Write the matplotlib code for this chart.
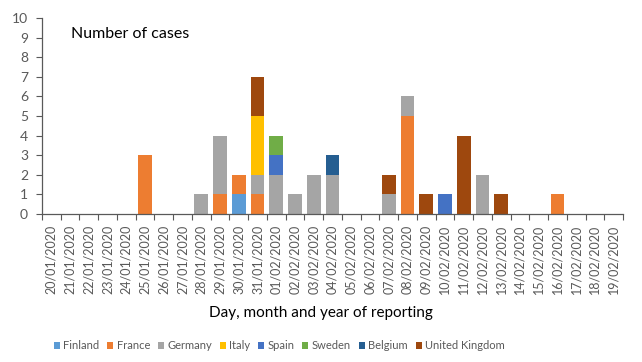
import matplotlib.pyplot as plt
import numpy as np

plt.rcParams["font.family"] = ["Lato", "DejaVu Sans"]

dates = [
    "20/01/2020", "21/01/2020", "22/01/2020", "23/01/2020", "24/01/2020",
    "25/01/2020", "26/01/2020", "27/01/2020", "28/01/2020", "29/01/2020",
    "30/01/2020", "31/01/2020", "01/02/2020", "02/02/2020", "03/02/2020",
    "04/02/2020", "05/02/2020", "06/02/2020", "07/02/2020", "08/02/2020",
    "09/02/2020", "10/02/2020", "11/02/2020", "12/02/2020", "13/02/2020",
    "14/02/2020", "15/02/2020", "16/02/2020", "17/02/2020", "18/02/2020",
    "19/02/2020",
]

finland = [0, 0, 0, 0, 0, 0, 0, 0, 0, 0, 1, 0, 0, 0, 0, 0, 0, 0, 0, 0, 0, 0, 0, 0, 0, 0, 0, 0, 0, 0, 0]
france = [0, 0, 0, 0, 0, 3, 0, 0, 0, 1, 1, 1, 0, 0, 0, 0, 0, 0, 0, 5, 0, 0, 0, 0, 0, 0, 0, 1, 0, 0, 0]
germany = [0, 0, 0, 0, 0, 0, 0, 0, 1, 3, 0, 1, 2, 1, 2, 2, 0, 0, 1, 1, 0, 0, 0, 2, 0, 0, 0, 0, 0, 0, 0]
italy = [0, 0, 0, 0, 0, 0, 0, 0, 0, 0, 0, 3, 0, 0, 0, 0, 0, 0, 0, 0, 0, 0, 0, 0, 0, 0, 0, 0, 0, 0, 0]
spain = [0, 0, 0, 0, 0, 0, 0, 0, 0, 0, 0, 0, 1, 0, 0, 0, 0, 0, 0, 0, 0, 1, 0, 0, 0, 0, 0, 0, 0, 0, 0]
sweden = [0, 0, 0, 0, 0, 0, 0, 0, 0, 0, 0, 0, 1, 0, 0, 0, 0, 0, 0, 0, 0, 0, 0, 0, 0, 0, 0, 0, 0, 0, 0]
belgium = [0, 0, 0, 0, 0, 0, 0, 0, 0, 0, 0, 0, 0, 0, 0, 1, 0, 0, 0, 0, 0, 0, 0, 0, 0, 0, 0, 0, 0, 0, 0]
united_kingdom = [0, 0, 0, 0, 0, 0, 0, 0, 0, 0, 0, 2, 0, 0, 0, 0, 0, 0, 1, 0, 1, 0, 4, 0, 1, 0, 0, 0, 0, 0, 0]

series = [
    ("Finland", finland, "#5B9BD5"),
    ("France", france, "#ED7D31"),
    ("Germany", germany, "#A5A5A5"),
    ("Italy", italy, "#FFC000"),
    ("Spain", spain, "#4472C4"),
    ("Sweden", sweden, "#70AD47"),
    ("Belgium", belgium, "#255E91"),
    ("United Kingdom", united_kingdom, "#9E480E"),
]

axis_color = "#595959"

fig = plt.figure(figsize=(6.42, 3.62), dpi=100)
ax = fig.add_axes([0.0654, 0.409, 0.905, 0.541])

x = np.arange(len(dates))
bottom = np.zeros(len(dates))
for name, values, color in series:
    values = np.array(values, dtype=float)
    ax.bar(x, values, width=0.73, bottom=bottom, color=color, label=name, linewidth=0)
    bottom += values

ax.set_xlim(-0.5, len(dates) - 0.5)
ax.set_ylim(0, 10)
ax.set_yticks(range(0, 11))
ax.tick_params(axis="y", labelsize=10, colors=axis_color, length=4, width=0.8, pad=6)

ax.set_xticks(x)
ax.set_xticklabels(dates, rotation=90, fontsize=9, color=axis_color)
ax.tick_params(axis="x", which="major", length=0, pad=8)
ax.set_xticks(np.arange(len(dates) + 1) - 0.5, minor=True)
ax.tick_params(axis="x", which="minor", length=4, width=0.8, color=axis_color)

for side in ["top", "right"]:
    ax.spines[side].set_visible(False)
for side in ["left", "bottom"]:
    ax.spines[side].set_color(axis_color)
    ax.spines[side].set_linewidth(0.9)

ax.text(0.05, 0.955, "Number of cases", transform=ax.transAxes, fontsize=11.5,
        color="black", va="top")

fig.text(0.5, 0.135, "Day, month and year of reporting", ha="center", va="center",
         fontsize=11, color="black")

handles, labels = ax.get_legend_handles_labels()
fig.legend(handles, labels, loc="center", bbox_to_anchor=(0.435, 0.045), ncol=8,
           frameon=False, fontsize=8, handlelength=0.55, handleheight=0.55,
           handletextpad=0.3, columnspacing=0.7, labelcolor=axis_color)

fig.savefig("out.png", dpi=100)
